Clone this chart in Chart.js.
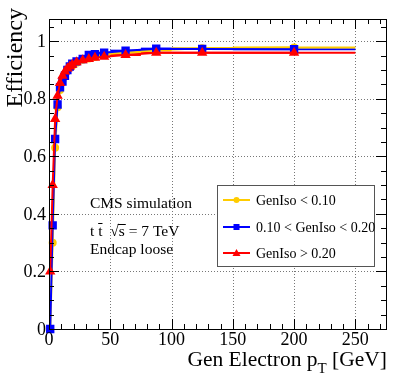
<!DOCTYPE html>
<html>
<head>
<meta charset="utf-8">
<script src="https://cdn.jsdelivr.net/npm/chart.js@4"></script>
<style>
  html, body { margin: 0; padding: 0; background: #fff; }
  #wrap { width: 407px; height: 392px; }
</style>
</head>
<body>
<div id="wrap"><canvas id="effChart" width="407" height="392"></canvas></div>
<script>
// pT bins (centres and edges, GeV)
const ptCenters = [1, 3, 5, 7, 9, 11, 13, 15, 17, 19, 22.5, 27.5, 32.5, 37.5, 45, 62.5, 87.5, 125, 200];
const ptLow     = [0, 2, 4, 6, 8, 10, 12, 14, 16, 18, 20, 25, 30, 35, 40, 50, 75, 100, 150];
const ptHigh    = [2, 4, 6, 8, 10, 12, 14, 16, 18, 20, 25, 30, 35, 40, 50, 75, 100, 150, 250];

// efficiencies per isolation class
const effIsoLow  = [0.0, 0.30, 0.63, 0.77, 0.83, 0.865, 0.885, 0.90, 0.908, 0.915, 0.925, 0.935, 0.94, 0.945, 0.955, 0.96, 0.968, 0.975, 0.978];
const effIsoMid  = [0.0, 0.36, 0.66, 0.78, 0.84, 0.86, 0.88, 0.90, 0.912, 0.922, 0.93, 0.938, 0.952, 0.955, 0.96, 0.967, 0.974, 0.973, 0.972];
const effIsoHigh = [0.2, 0.50, 0.73, 0.81, 0.855, 0.88, 0.895, 0.905, 0.912, 0.918, 0.927, 0.934, 0.938, 0.942, 0.946, 0.952, 0.96, 0.96, 0.96];

const seriesLabels = ['GenIso < 0.10', '0.10 < GenIso < 0.20', 'GenIso > 0.20'];
const xTicks = [0, 50, 100, 150, 200, 250];
const yTicks = [0, 0.2, 0.4, 0.6, 0.8, 1];

const serif = '"Liberation Serif", "DejaVu Serif", serif';

function toPoints(vals) {
  return vals.map((v, i) => ({ x: ptCenters[i], y: v, lo: ptLow[i], hi: ptHigh[i] }));
}

// dotted grid behind the data
const gridPlugin = {
  id: 'grid',
  beforeDatasetsDraw(chart) {
    const { ctx, chartArea: a, scales: { x, y } } = chart;
    ctx.save();
    ctx.strokeStyle = '#777';
    ctx.lineWidth = 1;
    ctx.setLineDash([1, 2]);
    xTicks.slice(1).forEach(t => {
      const px = Math.round(x.getPixelForValue(t)) + 0.5;
      ctx.beginPath(); ctx.moveTo(px, a.top); ctx.lineTo(px, a.bottom); ctx.stroke();
    });
    yTicks.slice(1).forEach(t => {
      const py = Math.round(y.getPixelForValue(t)) + 0.5;
      ctx.beginPath(); ctx.moveTo(a.left, py); ctx.lineTo(a.right, py); ctx.stroke();
    });
    ctx.restore();
  }
};

// horizontal error bars (bin widths)
const xErrPlugin = {
  id: 'xerr',
  beforeDatasetsDraw(chart) {
    const { ctx, scales: { x, y } } = chart;
    ctx.save();
    chart.data.datasets.forEach(ds => {
      ctx.strokeStyle = ds.borderColor;
      ctx.lineWidth = 2;
      ds.data.forEach(p => {
        const py = y.getPixelForValue(p.y);
        ctx.beginPath();
        ctx.moveTo(x.getPixelForValue(p.lo), py);
        ctx.lineTo(x.getPixelForValue(p.hi), py);
        ctx.stroke();
      });
    });
    ctx.restore();
  }
};

// ROOT style frame, ticks, labels, legend and text
const framePlugin = {
  id: 'frame',
  afterDraw(chart) {
    const { ctx, chartArea: a, scales: { x, y } } = chart;
    ctx.save();
    ctx.strokeStyle = '#000';
    ctx.lineWidth = 1;
    ctx.strokeRect(a.left + 0.5, a.top + 0.5, a.right - a.left, a.bottom - a.top);

    // x ticks, every 10 GeV, major every 50
    for (let t = 0; t <= 270; t += 10) {
      const px = Math.round(x.getPixelForValue(t)) + 0.5;
      const len = t % 50 === 0 ? 10 : 5;
      ctx.beginPath();
      ctx.moveTo(px, a.bottom); ctx.lineTo(px, a.bottom - len);
      ctx.moveTo(px, a.top); ctx.lineTo(px, a.top + len);
      ctx.stroke();
    }
    // y ticks, every 0.05, major every 0.2
    for (let k = 0; k <= 21; k++) {
      const t = k * 0.05;
      const py = Math.round(y.getPixelForValue(t)) + 0.5;
      const len = k % 4 === 0 ? 10 : 5;
      ctx.beginPath();
      ctx.moveTo(a.left, py); ctx.lineTo(a.left + len, py);
      ctx.moveTo(a.right, py); ctx.lineTo(a.right - len, py);
      ctx.stroke();
    }

    ctx.fillStyle = '#000';
    ctx.font = '18px ' + serif;
    ctx.textAlign = 'center';
    ctx.textBaseline = 'alphabetic';
    xTicks.forEach(t => ctx.fillText(String(t), x.getPixelForValue(t), a.bottom + 16));
    ctx.textAlign = 'right';
    ctx.textBaseline = 'middle';
    yTicks.forEach(t => ctx.fillText(String(t), a.left - 3, y.getPixelForValue(t) + 1));

    // axis titles
    ctx.save();
    ctx.translate(22, 8);
    ctx.rotate(-Math.PI / 2);
    ctx.font = '24px ' + serif;
    ctx.textAlign = 'right';
    ctx.textBaseline = 'alphabetic';
    ctx.fillText('Efficiency', 0, 0);
    ctx.restore();

    ctx.textAlign = 'left';
    ctx.textBaseline = 'alphabetic';
    const p1 = 'Gen Electron p', p2 = ' [GeV]';
    ctx.font = '15px ' + serif;
    const wSub = ctx.measureText('T').width;
    ctx.font = '21.5px ' + serif;
    const w1 = ctx.measureText(p1).width, w2 = ctx.measureText(p2).width;
    let tx = a.right + 1 - (w1 + wSub + w2), ty = 366;
    ctx.fillText(p1, tx, ty);
    ctx.font = '15px ' + serif;
    ctx.fillText('T', tx + w1, ty + 7);
    ctx.font = '21.5px ' + serif;
    ctx.fillText(p2, tx + w1 + wSub, ty);

    // annotation
    ctx.font = '15.5px ' + serif;
    ctx.fillText('CMS simulation', 90, 208);
    const ax = 90, ay = 236;
    const wt = ctx.measureText('t ').width, wt2 = ctx.measureText('t').width;
    ctx.fillText('t t', ax, ay);
    ctx.lineWidth = 1;
    ctx.beginPath(); ctx.moveTo(ax + wt, ay - 12.5); ctx.lineTo(ax + wt + wt2, ay - 12.5); ctx.stroke();
    const pre = 't t  ';
    const wpre = ctx.measureText(pre).width;
    ctx.fillText('\u221A', ax + wpre, ay);
    const wr = ctx.measureText('\u221A').width;
    ctx.fillText('s = 7 TeV', ax + wpre + wr, ay);
    const wsS = ctx.measureText('s').width;
    ctx.beginPath();
    ctx.moveTo(ax + wpre + wr - 1, ay - 11.5); ctx.lineTo(ax + wpre + wr + wsS + 1, ay - 11.5);
    ctx.stroke();
    ctx.fillText('Endcap loose', 90, 254);

    // legend
    const lx = 217, ly = 185, lw = 157, lh = 81;
    ctx.fillStyle = '#fff';
    ctx.fillRect(lx, ly, lw, lh);
    ctx.strokeStyle = '#555';
    ctx.strokeRect(lx + 0.5, ly + 0.5, lw, lh);
    const rows = [200, 227, 253];
    chart.data.datasets.slice().sort((d1, d2) => d1.legendIndex - d2.legendIndex).forEach((ds, i) => {
      const ry = rows[i];
      ctx.strokeStyle = ds.borderColor;
      ctx.lineWidth = 2;
      ctx.beginPath(); ctx.moveTo(223, ry); ctx.lineTo(250, ry); ctx.stroke();
      ctx.fillStyle = ds.borderColor;
      ctx.beginPath();
      if (ds.pointStyle === 'circle') {
        ctx.arc(236.5, ry, 3, 0, Math.PI * 2);
      } else if (ds.pointStyle === 'rect') {
        ctx.rect(233.5, ry - 3, 6, 6);
      } else {
        ctx.moveTo(236.5, ry - 4); ctx.lineTo(240.5, ry + 3); ctx.lineTo(232.5, ry + 3); ctx.closePath();
      }
      ctx.fill();
      ctx.fillStyle = '#000';
      ctx.font = '14px ' + serif;
      ctx.textBaseline = 'middle';
      ctx.fillText(ds.label, 256, ry + 1);
    });
    ctx.restore();
  }
};

new Chart(document.getElementById('effChart'), {
  type: 'scatter',
  data: {
    datasets: [
      {
        label: seriesLabels[2], legendIndex: 2, order: 1,
        data: toPoints(effIsoHigh), showLine: true,
        borderColor: '#ff0000', backgroundColor: '#ff0000', borderWidth: 2,
        pointStyle: 'triangle', pointRadius: 4, clip: false
      },
      {
        label: seriesLabels[1], legendIndex: 1, order: 2,
        data: toPoints(effIsoMid), showLine: true,
        borderColor: '#0000ff', backgroundColor: '#0000ff', borderWidth: 2,
        pointStyle: 'rect', pointRadius: 4.5, clip: false
      },
      {
        label: seriesLabels[0], legendIndex: 0, order: 3,
        data: toPoints(effIsoLow), showLine: true,
        borderColor: '#ffcc00', backgroundColor: '#ffcc00', borderWidth: 2,
        pointStyle: 'circle', pointRadius: 3, clip: false
      }
    ]
  },
  options: {
    responsive: false,
    animation: false,
    layout: { padding: { left: 49, top: 19, right: 21, bottom: 63 } },
    scales: {
      x: { type: 'linear', min: 0, max: 275, display: false },
      y: { type: 'linear', min: 0, max: 1.077, display: false }
    },
    plugins: { legend: { display: false }, tooltip: { enabled: false } }
  },
  plugins: [gridPlugin, xErrPlugin, framePlugin]
});
</script>
</body>
</html>
